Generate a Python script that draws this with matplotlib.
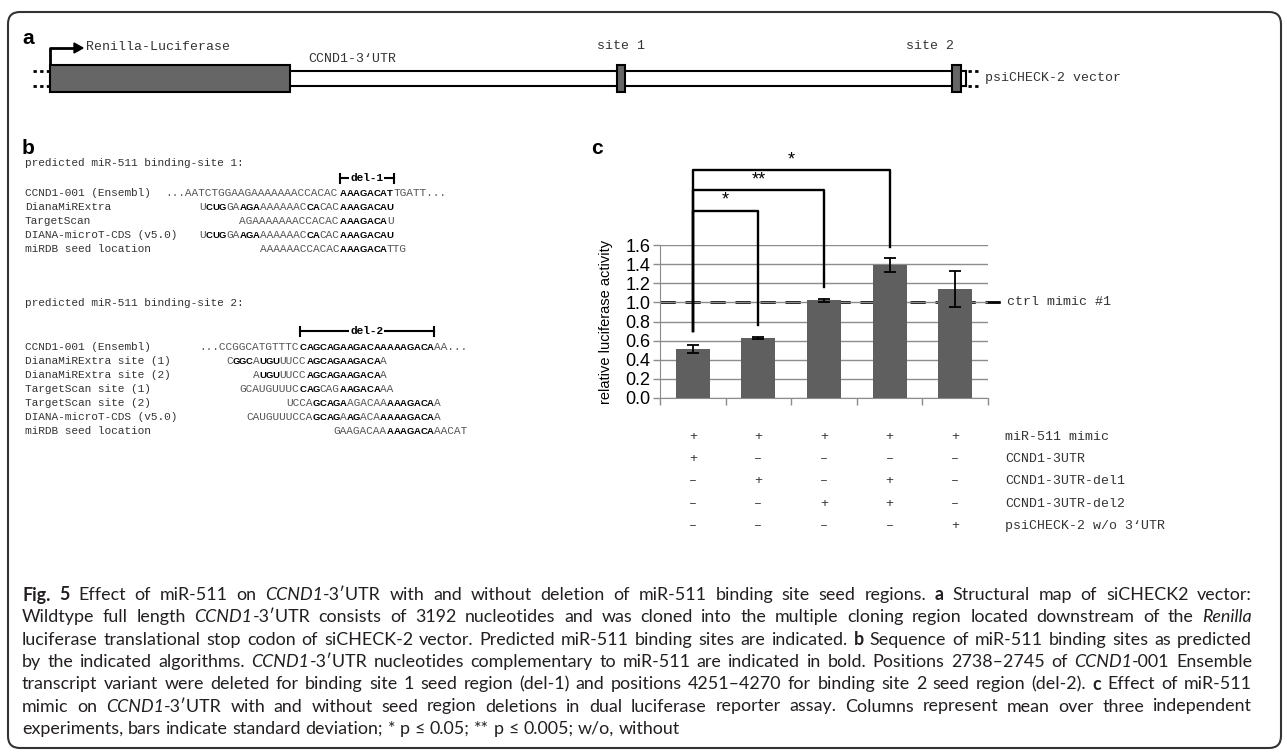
import re
import numpy as np
import matplotlib
matplotlib.use('Agg')
import matplotlib.pyplot as plt
import matplotlib.transforms as mtransforms
from matplotlib.patches import FancyBboxPatch, Rectangle, Polygon

W, H = 1287, 752

# ---- panel c data ----
activity = [0.51, 0.63, 1.02, 1.39, 1.14]
activity_sd = [0.04, 0.01, 0.02, 0.07, 0.19]
ctrl_level = 1.0
y_ticks = [0.0, 0.2, 0.4, 0.6, 0.8, 1.0, 1.2, 1.4, 1.6]
# (left bar, right bar, bracket height, end of right leg, stars)
sig_pairs = [(0, 1, 1.96, 0.76, '*'), (0, 2, 2.17, 1.16, '**'), (0, 3, 2.38, 1.58, '*')]
left_leg_end = 0.70

table_labels = ['miR-511 mimic', 'CCND1-3UTR', 'CCND1-3UTR-del1',
                'CCND1-3UTR-del2', 'psiCHECK-2 w/o 3\u2018UTR']
table_signs = ['+++++', '+----', '-+-+-', '--++-', '----+']

# ---- panel b data, [..] = bold ----
site1_labels = ['CCND1-001 (Ensembl)', 'DianaMiRExtra', 'TargetScan',
                'DIANA-microT-CDS (v5.0)', 'miRDB seed location']
site1_seqs = ['...AATCTGGAAGAAAAAAACCACAC[AAAGACAT]TGATT...',
              'U[CUG]GA[AGA]AAAAAAC[CA]CAC[AAAGACAU]',
              'AGAAAAAAACCACAC[AAAGACA]U',
              'U[CUG]GA[AGA]AAAAAAC[CA]CAC[AAAGACAU]',
              'AAAAAACCACAC[AAAGACA]TTG']
site1_offsets = [0, 5, 11, 5, 14]
del1 = (26, 33)

site2_labels = ['CCND1-001 (Ensembl)', 'DianaMiRExtra site (1)', 'DianaMiRExtra site (2)',
                'TargetScan site (1)', 'TargetScan site (2)', 'DIANA-microT-CDS (v5.0)',
                'miRDB seed location']
site2_seqs = ['...CCGGCATGTTTC[CAGCAGAAGACAAAAAGACA]AA...',
              'C[GGC]A[UGU]UUCC[AGCAGAAGACA]A',
              'A[UGU]UUCC[AGCAGAAGACA]A',
              'GCAUGUUUC[CAG]CAG[AAGACA]AA',
              'UCCA[GCAGA]AGACAA[AAAGACA]A',
              'CAUGUUUCCA[GCAG]A[AG]ACA[AAAAGACA]A',
              'GAAGACAA[AAAGACA]AACAT']
site2_offsets = [0, 4, 8, 6, 13, 7, 20]
del2 = (15, 34)

caption_lines = [
    '<b>Fig. 5</b> Effect of miR-511 on <i>CCND1</i>-3\u2032UTR with and without deletion of miR-511 binding site seed regions. <b>a</b> Structural map of siCHECK2 vector:',
    'Wildtype full length <i>CCND1</i>-3\u2032UTR consists of 3192 nucleotides and was cloned into the multiple cloning region located downstream of the <i>Renilla</i>',
    'luciferase translational stop codon of siCHECK-2 vector. Predicted miR-511 binding sites are indicated. <b>b</b> Sequence of miR-511 binding sites as predicted',
    'by the indicated algorithms. <i>CCND1</i>-3\u2032UTR nucleotides complementary to miR-511 are indicated in bold. Positions 2738\u20132745 of <i>CCND1</i>-001 Ensemble',
    'transcript variant were deleted for binding site 1 seed region (del-1) and positions 4251\u20134270 for binding site 2 seed region (del-2). <b>c</b> Effect of miR-511',
    'mimic on <i>CCND1</i>-3\u2032UTR with and without seed region deletions in dual luciferase reporter assay. Columns represent mean over three independent',
    'experiments, bars indicate standard deviation; * p \u2264 0.05; ** p \u2264 0.005; w/o, without',
]

MONO = 'Liberation Mono'
SANS = 'Liberation Sans'
CAP = ['Lato', 'DejaVu Sans']
GREY = '#333333'
FS_A = 9.5  # monospace labels in panels a and c

fig = plt.figure(figsize=(W / 100, H / 100), dpi=100)
ax = fig.add_axes([0, 0, 1, 1])
ax.set_xlim(0, W)
ax.set_ylim(H, 0)
ax.axis('off')
renderer = fig.canvas.get_renderer()

# frame
ax.add_patch(FancyBboxPatch((8, 12), 1273, 736, boxstyle='round,pad=0,rounding_size=12',
                            fc='none', ec='#333333', lw=1.5))

# ---------------- panel a ----------------
ax.text(28, 38, 'a', family=SANS, weight='bold', fontsize=15, va='center', ha='center')
box_top, box_bot = 65, 92
line_y = (71, 86)
ax.add_patch(Rectangle((50, box_top), 240, box_bot - box_top, fc='#666666', ec='black',
                       lw=1.5, zorder=3))
for yy in line_y:
    ax.plot([290, 953], [yy, yy], color='black', lw=1.5)
    ax.plot([33, 50], [yy, yy], color='black', lw=2, ls=(0, (1.2, 1.2)))
    ax.plot([968, 980], [yy, yy], color='black', lw=2, ls=(0, (1.2, 1.2)))
    ax.plot([961, 966], [yy, yy], color='black', lw=1.5)
ax.plot([966, 966], line_y, color='black', lw=1.5)
ax.add_patch(Rectangle((617, box_top), 8, box_bot - box_top, fc='#666666', ec='black',
                       lw=1.5, zorder=3))
ax.add_patch(Rectangle((952, box_top), 9, box_bot - box_top, fc='#666666', ec='black',
                       lw=1.5, zorder=3))
ax.plot([50, 50, 75], [box_top, 48, 48], color='black', lw=2)
ax.add_patch(Polygon([(74, 43), (83, 48), (74, 53)], closed=True, fc='black', ec='black'))
ax.text(86, 47, 'Renilla-Luciferase', family=MONO, fontsize=FS_A, color=GREY, va='center')
ax.text(352, 59, 'CCND1-3\u2018UTR', family=MONO, fontsize=FS_A, color=GREY,
        va='center', ha='center')
ax.text(621, 46, 'site 1', family=MONO, fontsize=FS_A, color=GREY, va='center', ha='center')
ax.text(930, 46, 'site 2', family=MONO, fontsize=FS_A, color=GREY, va='center', ha='center')
ax.text(985, 78, 'psiCHECK-2 vector', family=MONO, fontsize=FS_A, color=GREY, va='center')

# ---------------- panel b ----------------
X0 = 25.0
CW = 6.7
FS_MONO = CW / 0.6 * 0.72  # Liberation Mono advance is 0.6 em


def parse_seq(s):
    return [(m.group(1) is not None, m.group(1) or m.group(2))
            for m in re.finditer(r'\[([^\]]+)\]|([^\[]+)', s)]


def draw_row(y, label, seq, col0, offset):
    ax.text(X0, y, label, family=MONO, fontsize=FS_MONO, color=GREY, va='center')
    col = col0 + offset
    for bold, chunk in parse_seq(seq):
        if bold:
            for ch in chunk:
                ax.text(X0 + (col + 0.5) * CW, y, ch, family=SANS, weight='bold',
                        fontsize=FS_MONO * 0.85, color='black', va='center', ha='center')
                col += 1
        else:
            ax.text(X0 + col * CW, y, chunk, family=MONO, fontsize=FS_MONO,
                    color='#555555', va='center')
            col += len(chunk)


def draw_del(y, col0, span, label):
    xl = X0 + (col0 + span[0]) * CW
    xr = X0 + (col0 + span[1] + 1) * CW
    ax.plot([xl, xr], [y, y], color='black', lw=1.5)
    for xx in (xl, xr):
        ax.plot([xx, xx], [y - 4.5, y + 4.5], color='black', lw=1.5)
    ax.text((xl + xr) / 2, y, label, family=MONO, weight='bold', fontsize=FS_MONO,
            va='center', ha='center', bbox=dict(fc='white', ec='none', pad=0.8))


ax.text(28, 148, 'b', family=SANS, weight='bold', fontsize=15, va='center', ha='center')
ax.text(X0, 163, 'predicted miR-511 binding-site 1:', family=MONO, fontsize=FS_MONO,
        color=GREY, va='center')
draw_del(178, 21, del1, 'del-1')
for k in range(len(site1_labels)):
    draw_row(193 + 14 * k, site1_labels[k], site1_seqs[k], 21, site1_offsets[k])

ax.text(X0, 303, 'predicted miR-511 binding-site 2:', family=MONO, fontsize=FS_MONO,
        color=GREY, va='center')
draw_del(331, 26, del2, 'del-2')
for k in range(len(site2_labels)):
    draw_row(347 + 14 * k, site2_labels[k], site2_seqs[k], 26, site2_offsets[k])

# ---------------- panel c ----------------
ax.text(597, 148, 'c', family=SANS, weight='bold', fontsize=15, va='center', ha='center')
AX_L, AX_R, AX_T, AX_B = 660, 988, 245, 398
axc = fig.add_axes([AX_L / W, 1 - AX_B / H, (AX_R - AX_L) / W, (AX_B - AX_T) / H])
x = np.arange(len(activity))
axc.bar(x, activity, width=0.52, color='#5f5f5f', zorder=3)
axc.errorbar(x, activity, yerr=activity_sd, fmt='none', ecolor='black',
             elinewidth=1.3, capsize=4, capthick=1.3, zorder=4)
axc.set_xlim(-0.5, 4.5)
axc.set_ylim(0, 1.6)
axc.set_yticks(y_ticks)
axc.set_yticklabels(['%.1f' % v for v in y_ticks], family=SANS, fontsize=13)
axc.set_xticks(np.arange(-0.5, 5, 1))
axc.set_xticklabels([])
axc.yaxis.grid(True, color='#8c8c8c', lw=1.0)
axc.set_axisbelow(True)
axc.tick_params(axis='both', direction='out', length=5, color='#8c8c8c', width=1, pad=2)
for s in ('top', 'right'):
    axc.spines[s].set_visible(False)
for s in ('left', 'bottom'):
    axc.spines[s].set_color('#8c8c8c')
axc.set_facecolor('none')
axc.set_ylabel('relative luciferase activity', family=SANS, fontsize=10.5)
axc.yaxis.set_label_coords((613 - AX_L) / (AX_R - AX_L), 0.5)

trc = mtransforms.blended_transform_factory(ax.transData, axc.transData)
ax.plot([AX_L, 1003], [ctrl_level, ctrl_level], transform=trc, color='black', lw=2,
        ls=(0, (5.5, 3.5)), zorder=5)
ax.text(1007, ctrl_level, 'ctrl mimic #1', transform=trc, family=MONO, fontsize=FS_A,
        color=GREY, va='center', ha='left')

for l, r, h, rend, lab in sig_pairs:
    axc.plot([l, l, r, r], [left_leg_end, h, h, rend], color='black', lw=1.7,
             clip_on=False, zorder=6)
    axc.text((l + r) / 2, h + 0.02, lab, family=SANS, fontsize=13, ha='center',
             va='bottom', clip_on=False)

# +/- table under the bars
tr = mtransforms.blended_transform_factory(axc.transData, ax.transData)
for i, (lab, signs) in enumerate(zip(table_labels, table_signs)):
    yy = 437 + 22.2 * i
    for j, sg in enumerate(signs):
        ax.text(x[j], yy, '+' if sg == '+' else '\u2013', transform=tr, family=MONO,
                fontsize=FS_A, color=GREY, ha='center', va='center')
    ax.text(1005, yy, lab, family=MONO, fontsize=FS_A, color=GREY, va='center')

# ---------------- caption ----------------
CAP_X0, CAP_X1 = 22, 1252


def cap_words(line):
    runs = []
    for m in re.finditer(r'<(b|i)>(.*?)</\1>|([^<]+)', line):
        if m.group(3) is not None:
            runs.append((m.group(3), 'n'))
        else:
            runs.append((m.group(2), m.group(1)))
    words = [[]]
    for txt, st in runs:
        parts = txt.split(' ')
        for k, p in enumerate(parts):
            if k > 0:
                words.append([])
            if p:
                words[-1].append((p, st))
    return [w for w in words if w]


def cap_props(st, fs):
    d = dict(family=CAP, fontsize=fs, color='#231f20', va='center', ha='left')
    if st == 'b':
        d['weight'] = 'bold'
    if st == 'i':
        d['style'] = 'italic'
    return d


def width_of(txt, props):
    t = ax.text(0, 0, txt, **props)
    w = t.get_window_extent(renderer).width
    t.remove()
    return w


def natural_width(words, fs):
    sp = width_of('a a', cap_props('n', fs)) - width_of('aa', cap_props('n', fs))
    tot = sum(width_of(p, cap_props(st, fs)) for w in words for p, st in w)
    return tot + sp * (len(words) - 1), sp


base = 12.0
maxw = max(natural_width(cap_words(l), base)[0] for l in caption_lines[:-1])
cap_fs = base * (CAP_X1 - CAP_X0) * 0.975 / maxw

for li, line in enumerate(caption_lines):
    words = cap_words(line)
    yy = 595 + 22.3 * li
    ww = [[width_of(p, cap_props(st, cap_fs)) for p, st in w] for w in words]
    nat, sp = natural_width(words, cap_fs)
    if li < len(caption_lines) - 1:
        gap = (CAP_X1 - CAP_X0 - sum(sum(w) for w in ww)) / (len(words) - 1)
    else:
        gap = sp
    xx = CAP_X0
    for w, wl in zip(words, ww):
        for (p, st), pw in zip(w, wl):
            ax.text(xx, yy, p, **cap_props(st, cap_fs))
            xx += pw
        xx += gap

fig.savefig('out.png', dpi=100)
